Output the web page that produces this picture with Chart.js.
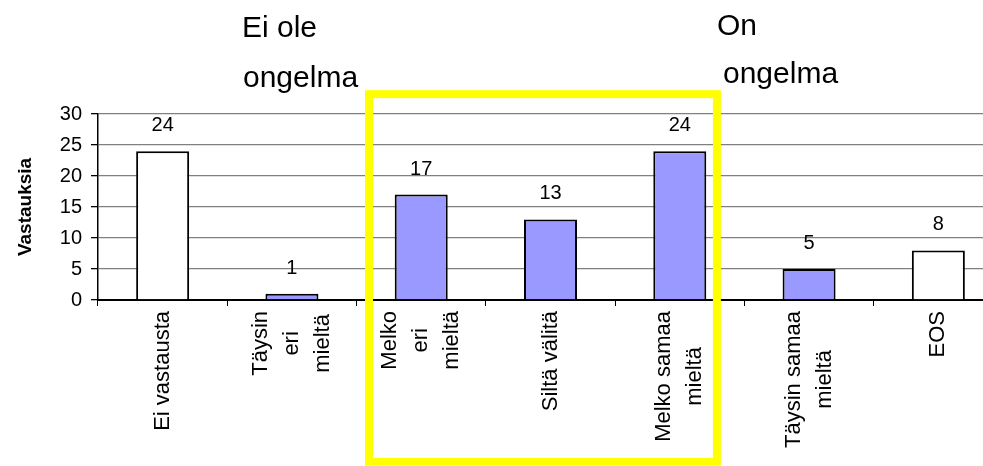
<!DOCTYPE html>
<html><head><meta charset="utf-8">
<script src="https://cdn.jsdelivr.net/npm/chart.js@4.4.1/dist/chart.umd.min.js"></script>
<style>
html,body{margin:0;padding:0;overflow:hidden;background:#fff;width:983px;height:466px}
#wrap{position:relative;width:1010px;height:466px}
</style></head>
<body><div id="wrap"><canvas id="c" width="1010" height="466"></canvas></div>
<script>
// ---- data ----
const categories = ["Ei vastausta", ["Täysin", "eri", "mieltä"], ["Melko", "eri", "mieltä"], "Siltä välitä", ["Melko samaa", "mieltä"], ["Täysin samaa", "mieltä"], "EOS"];
const responses = [24, 1, 17, 13, 24, 5, 8];
const barColors = ["#FFFFFF", "#9999FF", "#9999FF", "#9999FF", "#9999FF", "#9999FF", "#FFFFFF"];
const yTickValues = [0, 5, 10, 15, 20, 25, 30];
const yTitle = "Vastauksia";
const leftNote = ["Ei ole", "ongelma"];
const rightNote = ["On", "ongelma"];

const FONT = "'Liberation Sans', Arial, sans-serif";

const overlay = {
  id: 'overlay',
  beforeDraw(chart) {
    // center multi-line rotated x labels on each other and on the tick, block aligned at top
    const sc = chart.scales.x;
    const items = sc.getLabelItems();
    const ctx = chart.ctx;
    items.forEach(it => {
      if (it._centered) return;
      ctx.save();
      ctx.font = it.font.string;
      const lines = Array.isArray(it.label) ? it.label : [it.label];
      let w = 0;
      lines.forEach(l => { w = Math.max(w, ctx.measureText(l).width); });
      ctx.restore();
      it.options.textAlign = 'center';
      it.options.translation = [it.options.translation[0], it.options.translation[1] + w / 2];
      it.textOffset -= (lines.length - 1) * it.font.lineHeight / 2;
      it._centered = true;
    });
  },
  afterDraw(chart) {
    const ctx = chart.ctx;
    const meta = chart.getDatasetMeta(0);
    ctx.save();
    // value labels
    ctx.fillStyle = '#000';
    ctx.font = '20px ' + FONT;
    ctx.textAlign = 'center';
    ctx.textBaseline = 'alphabetic';
    meta.data.forEach((el, i) => {
      ctx.fillText(String(responses[i]), el.x, el.y - 20);
    });
    // notes
    ctx.font = '30px ' + FONT;
    ctx.textAlign = 'left';
    ctx.fillText(leftNote[0], 242, 37);
    ctx.fillText(leftNote[1], 243, 87);
    ctx.fillText(rightNote[0], 717, 35);
    ctx.fillText(rightNote[1], 723, 83);
    // yellow highlight box
    const xs = chart.scales.x, ys = chart.scales.y;
    const x0 = xs.getPixelForValue(1.596), x1 = xs.getPixelForValue(4.287);
    const y0 = ys.getPixelForValue(33.2), y1 = ys.getPixelForValue(-26.1);
    ctx.strokeStyle = '#FFFF00';
    ctx.lineWidth = 8;
    ctx.strokeRect(x0, y0, x1 - x0, y1 - y0);
    ctx.restore();
  }
};

new Chart(document.getElementById('c'), {
  type: 'bar',
  data: {
    labels: categories,
    datasets: [{
      data: responses,
      backgroundColor: barColors,
      borderColor: '#000',
      borderWidth: 2,
      barPercentage: 0.41,
      categoryPercentage: 1
    }]
  },
  options: {
    responsive: false,
    animation: false,
    devicePixelRatio: 1,
    layout: { padding: { top: 114, left: 0, right: 7, bottom: 0 } },
    plugins: { legend: { display: false }, tooltip: { enabled: false }, title: { display: false } },
    scales: {
      x: {
        type: 'category',
        offset: true,
        grid: { drawOnChartArea: false, drawTicks: true, tickLength: 6, color: '#000', lineWidth: 1, offset: true },
        border: { color: '#000', width: 2 },
        ticks: {
          minRotation: 90, maxRotation: 90, autoSkip: false, padding: 5,
          color: '#000', font: { family: FONT, size: 22, lineHeight: 1.4 }
        },
        afterFit(scale) { scale.height = 166; }
      },
      y: {
        min: 0, max: 30,
        afterBuildTicks(scale) { scale.ticks = yTickValues.map(v => ({ value: v })); },
        grid: { color: '#808080', lineWidth: 1.3, drawTicks: true, tickLength: 7, tickColor: '#000' },
        border: { color: '#000', width: 1.5 },
        ticks: { color: '#000', padding: 9, font: { family: FONT, size: 20 } },
        title: { display: true, text: yTitle, color: '#000', padding: { top: 14, bottom: 0 }, font: { family: FONT, size: 19, weight: 'bold' } },
        afterFit(scale) { scale.width = 98; }
      }
    }
  },
  plugins: [overlay]
});
</script>
</body></html>
